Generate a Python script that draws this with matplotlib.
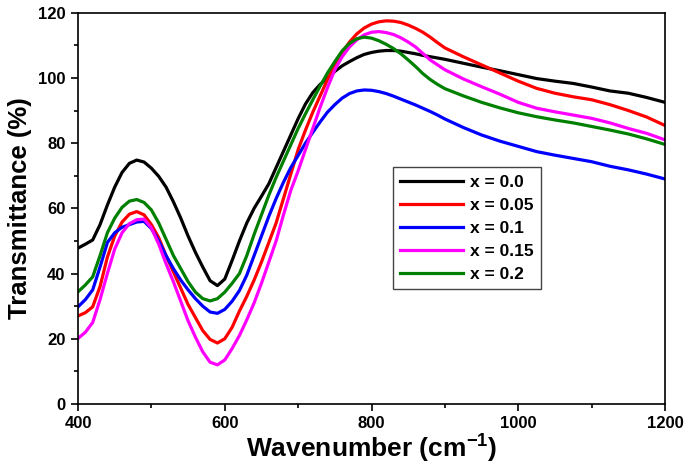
import matplotlib
matplotlib.use("Agg")
import matplotlib.pyplot as plt
from matplotlib.ticker import MultipleLocator

plt.rcParams['font.family'] = ['Liberation Sans', 'DejaVu Sans']
plt.rcParams['font.weight'] = 'bold'
plt.rcParams['mathtext.fontset'] = 'custom'
plt.rcParams['mathtext.bf'] = 'Liberation Sans:bold'
plt.rcParams['mathtext.rm'] = 'Liberation Sans:bold'

wavenumber = list(range(400, 901, 10)) + list(range(925, 1201, 25))

x_00 = [47.8, 49.0, 50.3, 55.0, 61.0, 66.5, 71.0, 73.8, 74.8, 74.2,
        72.3, 69.8, 66.5, 62.0, 57.0, 51.5, 46.5, 42.0, 37.8, 36.3,
        38.3, 44.0, 50.0, 55.5, 60.0, 63.7, 67.5, 72.5, 77.5, 82.5,
        87.5, 92.0, 95.5, 98.0, 100.0, 102.0, 103.7, 105.0, 106.2, 107.2,
        107.8, 108.2, 108.4, 108.4, 108.2, 107.8, 107.4, 106.9, 106.5, 106.1,
        105.7,
        104.5, 103.3, 102.2, 101.0, 99.8, 99.0, 98.3, 97.2, 96.0, 95.3, 94.0, 92.5]
x_005 = [27.0, 28.0, 29.8, 36.0, 45.0, 51.5, 55.8, 58.2, 59.0, 58.0,
         55.0, 51.0, 45.5, 40.5, 35.5, 30.5, 26.5, 22.5, 19.8, 18.7,
         20.0, 23.5, 28.5, 33.0, 38.0, 43.5, 49.5, 55.5, 63.0, 70.5,
         78.0, 84.0, 89.5, 94.5, 99.5, 104.0, 107.8, 111.0, 113.5, 115.3,
         116.5, 117.2, 117.5, 117.4, 117.0, 116.2, 115.2, 114.0, 112.5, 110.8,
         109.2,
         106.5, 104.0, 101.5, 99.0, 96.8, 95.3, 94.2, 93.3, 91.8, 90.0, 88.0, 85.4]
x_01 = [29.8, 32.0, 35.0, 42.0, 49.5, 52.5, 54.2, 55.0, 55.8, 56.0,
        53.8, 50.0, 45.5, 41.5, 38.0, 35.0, 32.3, 30.0, 28.2, 27.8,
        29.0, 31.5, 34.8, 39.5, 45.5, 51.5, 57.5, 63.0, 68.0, 72.5,
        76.2, 80.0, 83.3, 86.5, 89.5, 91.8, 93.8, 95.2, 96.0, 96.3,
        96.2, 95.8, 95.2, 94.4, 93.5, 92.6, 91.7, 90.7, 89.7, 88.6,
        87.4,
        84.8, 82.5, 80.6, 79.0, 77.4, 76.3, 75.3, 74.3, 72.9, 71.8, 70.5, 69.0]
x_015 = [20.1, 22.0, 25.0, 32.0, 40.0, 47.5, 52.5, 55.3, 56.5, 56.7,
         54.0, 49.0, 43.0, 37.5, 31.5, 25.5, 20.5, 16.0, 12.8, 12.0,
         13.5, 17.0, 21.0, 25.8, 31.0, 37.0, 43.5, 50.0, 58.0, 65.5,
         71.5, 78.0, 84.5, 91.0, 97.0, 102.5, 106.5, 109.5, 111.7, 113.2,
         114.0, 114.2, 113.9, 113.3, 112.3, 111.0, 109.5, 107.5, 105.5, 104.0,
         102.5,
         99.7, 97.3, 95.0, 92.5, 90.7, 89.6, 88.6, 87.6, 86.2, 84.5, 83.0, 81.0]
x_02 = [34.4, 36.5, 39.0, 45.5, 52.5, 57.0, 60.3, 62.2, 62.7, 61.8,
        59.5, 55.5, 50.5, 45.5, 41.5, 37.5, 34.3, 32.3, 31.6, 32.3,
        34.3, 37.0, 40.0, 45.5, 52.0, 58.0, 64.0, 69.5, 74.5, 79.5,
        84.5, 89.0, 93.3, 97.5, 101.5, 105.0, 108.3, 110.6, 112.0, 112.5,
        112.2, 111.4, 110.3, 109.0, 107.4, 105.5, 103.5, 101.3, 99.5, 98.0,
        96.7,
        94.5, 92.5, 90.8, 89.3, 88.1, 87.1, 86.2, 85.1, 84.0, 82.8, 81.3, 79.6]

series = [x_00, x_005, x_01, x_015, x_02]
labels = ['x = 0.0', 'x = 0.05', 'x = 0.1', 'x = 0.15', 'x = 0.2']
colors = ['#000000', '#FF0000', '#0000FF', '#FF00FF', '#008000']

fig = plt.figure(figsize=(6.85, 4.68), dpi=100)
ax = fig.add_axes([0.1139, 0.1368, 0.8569, 0.8361])

for ys, lab, c in zip(series, labels, colors):
    ax.plot(wavenumber, ys, color=c, lw=2.3, label=lab, solid_joinstyle='round')

ax.set_xlim(400, 1200)
ax.set_ylim(0, 120)
ax.xaxis.set_major_locator(MultipleLocator(200))
ax.xaxis.set_minor_locator(MultipleLocator(100))
ax.yaxis.set_major_locator(MultipleLocator(20))
ax.yaxis.set_minor_locator(MultipleLocator(10))
ax.tick_params(which='major', direction='out', length=5, width=1.2, labelsize=12, pad=4)
ax.tick_params(which='minor', direction='out', length=3, width=1.2)
for lab in ax.get_xticklabels() + ax.get_yticklabels():
    lab.set_fontweight('bold')
for sp in ax.spines.values():
    sp.set_linewidth(1.2)

ax.set_xlabel('Wavenumber (cm$^{\\mathbf{-1}}$)', fontsize=19, fontweight='bold', labelpad=0)
ax.set_ylabel('Transmittance (%)', fontsize=18.5, fontweight='bold', labelpad=4)

leg = ax.legend(loc='upper left', bbox_to_anchor=(0.536, 0.606), borderaxespad=0,
                fancybox=False, edgecolor='#444444', framealpha=1,
                prop={'weight': 'bold', 'size': 12.5}, handlelength=3.6,
                labelspacing=0.45, handletextpad=0.4, borderpad=0.45)
leg.get_frame().set_linewidth(1.0)

fig.savefig('out.png', dpi=100)
